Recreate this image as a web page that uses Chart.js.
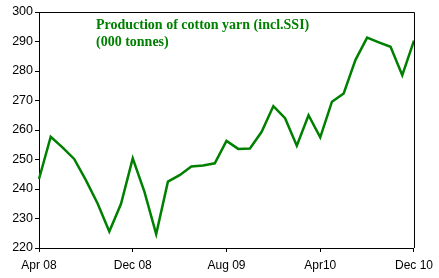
<!DOCTYPE html>
<html>
<head>
<meta charset="utf-8">
<script src="https://cdn.jsdelivr.net/npm/chart.js@4/dist/chart.umd.min.js"></script>
<style>
html,body{margin:0;padding:0;background:#fff;}
#wrap{width:439px;height:278px;position:relative;}
</style>
</head>
<body>
<div id="wrap"><canvas id="c" width="439" height="278"></canvas></div>
<script>
const categories = ["Apr 08","May 08","Jun 08","Jul 08","Aug 08","Sep 08","Oct 08","Nov 08","Dec 08",
  "Jan 09","Feb 09","Mar 09","Apr 09","May 09","Jun 09","Jul 09","Aug 09","Sep 09","Oct 09","Nov 09","Dec 09",
  "Jan10","Feb10","Mar10","Apr10","May10","Jun10","Jul10","Aug10","Sep10","Oct10","Nov10","Dec 10"];
const production = [243.4, 257.7, 254.1, 250.2, 243.0, 235.1, 225.6, 235.0, 250.4,
  239.0, 224.7, 242.5, 244.7, 247.6, 248.0, 248.7, 256.3, 253.6, 253.7, 259.4, 268.1,
  264.0, 254.7, 265.0, 257.5, 269.6, 272.4, 283.7, 291.3, 289.7, 288.2, 278.6, 290.3];
const xTickLabels = ["Apr 08","Dec 08","Aug 09","Apr10","Dec 10"];
const yTicks = [220,230,240,250,260,270,280,290,300];
const titleLines = ["Production of cotton yarn (incl.SSI)","(000 tonnes)"];

const framePlugin = {
  id:'frame',
  afterDraw(chart){
    const {ctx, chartArea:a} = chart;
    ctx.save();
    ctx.strokeStyle = '#000';
    ctx.lineWidth = 1;
    ctx.beginPath();
    ctx.moveTo(a.left, a.top + 0.5);
    ctx.lineTo(a.right + 0.5, a.top + 0.5);
    ctx.lineTo(a.right + 0.5, a.bottom);
    ctx.stroke();
    ctx.fillStyle = '#008000';
    ctx.font = 'bold 14px "Liberation Serif", "Times New Roman", serif';
    ctx.textBaseline = 'alphabetic';
    ctx.textAlign = 'left';
    titleLines.forEach((t,i)=>ctx.fillText(t, a.left + 57, a.top + 17 + i*17));
    ctx.restore();
  }
};

new Chart(document.getElementById('c'), {
  type:'line',
  data:{
    labels: categories,
    datasets:[{
      data: production,
      borderColor:'#008000',
      borderWidth:2.5,
      pointRadius:0,
      tension:0,
      fill:false
    }]
  },
  options:{
    responsive:false,
    animation:false,
    devicePixelRatio:1,
    layout:{padding:{top:12,right:21,left:0,bottom:0}},
    plugins:{legend:{display:false},tooltip:{enabled:false},title:{display:false}},
    scales:{
      x:{
        type:'category',
        offset:false,
        afterBuildTicks(scale){
          scale.ticks = scale.ticks.filter(t => xTickLabels.includes(categories[t.value]));
        },
        afterFit(scale){ scale.height = 30; },
        grid:{drawOnChartArea:false, drawTicks:true, tickLength:4, color:'#000', tickColor:'#000'},
        border:{display:true, color:'#000', width:1},
        ticks:{autoSkip:false, maxRotation:0, padding:6, color:'#000',
          font:{family:'"Liberation Sans", Arial, sans-serif', size:12}}
      },
      y:{
        min:220, max:300,
        afterBuildTicks(scale){ scale.ticks = yTicks.map(v=>({value:v})); },
        afterFit(scale){ scale.width = 39; },
        grid:{drawOnChartArea:false, drawTicks:true, tickLength:4, color:'#000', tickColor:'#000'},
        border:{display:true, color:'#000', width:1},
        ticks:{padding:2, color:'#000',
          font:{family:'"Liberation Sans", Arial, sans-serif', size:12.5}}
      }
    }
  },
  plugins:[framePlugin]
});
</script>
</body>
</html>
